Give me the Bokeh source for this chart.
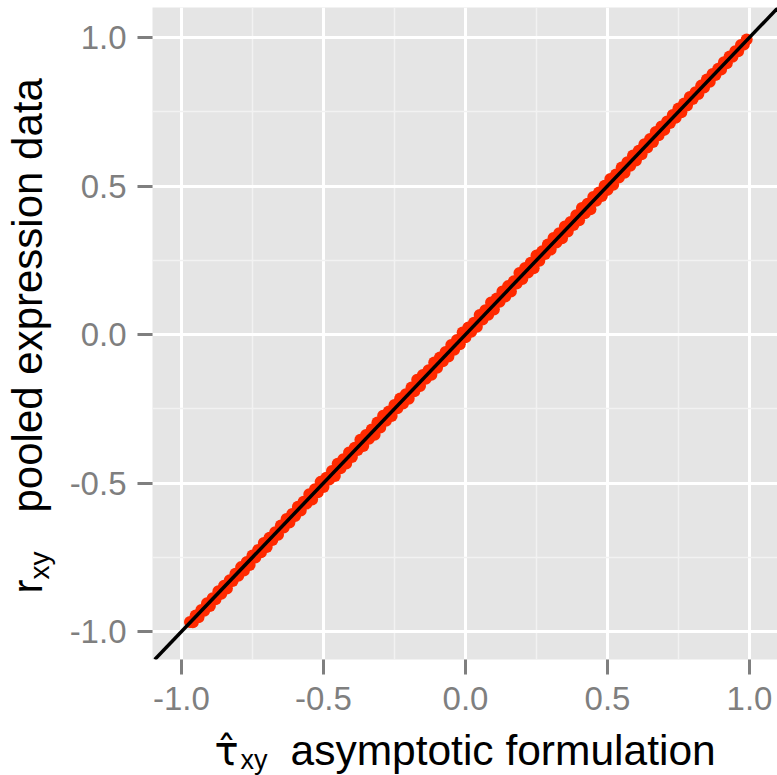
import math
from bokeh.plotting import figure
from bokeh.layouts import row, column
from bokeh.models import Range1d, FixedTicker, NumeralTickFormatter, Slope
from bokeh.core.properties import value
from bokeh.embed import file_html
from bokeh.resources import INLINE

# ---- data ----
x_a = [-0.97, -0.95, -0.93, -0.91, -0.89, -0.87, -0.85, -0.83, -0.81, -0.79,
       -0.77, -0.75, -0.73, -0.71, -0.69, -0.67, -0.65, -0.63, -0.61, -0.59,
       -0.57, -0.55, -0.53, -0.51, -0.49, -0.47, -0.45, -0.43, -0.41, -0.39,
       -0.37, -0.35, -0.33, -0.31, -0.29, -0.27, -0.25, -0.23, -0.21, -0.19,
       -0.17, -0.15, -0.13, -0.11, -0.09, -0.07, -0.05, -0.03, -0.01, 0.01,
       0.03, 0.05, 0.07, 0.09, 0.11, 0.13, 0.15, 0.17, 0.19, 0.21,
       0.23, 0.25, 0.27, 0.29, 0.31, 0.33, 0.35, 0.37, 0.39, 0.41,
       0.43, 0.45, 0.47, 0.49, 0.51, 0.53, 0.55, 0.57, 0.59, 0.61,
       0.63, 0.65, 0.67, 0.69, 0.71, 0.73, 0.75, 0.77, 0.79, 0.81,
       0.83, 0.85, 0.87, 0.89, 0.91, 0.93, 0.95, 0.97, 0.99]
y_a = [-0.968, -0.946, -0.927, -0.905, -0.888, -0.864, -0.846, -0.827, -0.805, -0.783,
       -0.766, -0.744, -0.725, -0.702, -0.684, -0.666, -0.643, -0.621, -0.604, -0.580,
       -0.563, -0.538, -0.521, -0.496, -0.482, -0.459, -0.435, -0.420, -0.397, -0.381,
       -0.354, -0.338, -0.320, -0.296, -0.273, -0.259, -0.237, -0.215, -0.201, -0.178,
       -0.152, -0.136, -0.120, -0.094, -0.077, -0.059, -0.035, -0.018, 0.007, 0.024,
       0.040, 0.066, 0.082, 0.108, 0.121, 0.145, 0.163, 0.179, 0.207, 0.224,
       0.242, 0.266, 0.280, 0.303, 0.325, 0.341, 0.364, 0.379, 0.402, 0.426,
       0.440, 0.463, 0.478, 0.501, 0.524, 0.539, 0.562, 0.580, 0.603, 0.619,
       0.641, 0.658, 0.682, 0.700, 0.717, 0.739, 0.761, 0.778, 0.800, 0.816,
       0.838, 0.859, 0.877, 0.895, 0.917, 0.936, 0.954, 0.975, 0.993]
x_b = [-0.96, -0.94, -0.92, -0.90, -0.88, -0.86, -0.84, -0.82, -0.80, -0.78,
       -0.76, -0.74, -0.72, -0.70, -0.68, -0.66, -0.64, -0.62, -0.60, -0.58,
       -0.56, -0.54, -0.52, -0.50, -0.48, -0.46, -0.44, -0.42, -0.40, -0.38,
       -0.36, -0.34, -0.32, -0.30, -0.28, -0.26, -0.24, -0.22, -0.20, -0.18,
       -0.16, -0.14, -0.12, -0.10, -0.08, -0.06, -0.04, -0.02, 0.00, 0.02,
       0.04, 0.06, 0.08, 0.10, 0.12, 0.14, 0.16, 0.18, 0.20, 0.22,
       0.24, 0.26, 0.28, 0.30, 0.32, 0.34, 0.36, 0.38, 0.40, 0.42,
       0.44, 0.46, 0.48, 0.50, 0.52, 0.54, 0.56, 0.58, 0.60, 0.62,
       0.64, 0.66, 0.68, 0.70, 0.72, 0.74, 0.76, 0.78, 0.80, 0.82,
       0.84, 0.86, 0.88, 0.90, 0.92, 0.94, 0.96, 0.98]
y_b = [-0.969, -0.952, -0.930, -0.914, -0.891, -0.873, -0.855, -0.830, -0.812, -0.794,
       -0.776, -0.751, -0.733, -0.715, -0.692, -0.674, -0.650, -0.633, -0.611, -0.592,
       -0.569, -0.555, -0.531, -0.513, -0.488, -0.476, -0.450, -0.434, -0.412, -0.389,
       -0.375, -0.351, -0.337, -0.313, -0.290, -0.274, -0.248, -0.232, -0.216, -0.191,
       -0.173, -0.149, -0.135, -0.112, -0.090, -0.074, -0.051, -0.033, -0.009, 0.009,
       0.026, 0.051, 0.067, 0.084, 0.110, 0.128, 0.145, 0.172, 0.187, 0.209,
       0.223, 0.248, 0.271, 0.286, 0.310, 0.324, 0.347, 0.369, 0.385, 0.408,
       0.422, 0.450, 0.466, 0.487, 0.504, 0.529, 0.545, 0.568, 0.586, 0.607,
       0.630, 0.648, 0.671, 0.689, 0.712, 0.730, 0.748, 0.771, 0.793, 0.810,
       0.832, 0.851, 0.874, 0.892, 0.913, 0.935, 0.954, 0.976]

major_ticks = [-1.0, -0.5, 0.0, 0.5, 1.0]
minor_ticks = [-0.75, -0.25, 0.25, 0.75]
x_title = "asymptotic formulation"
y_title = "pooled expression data"

FONT = "Liberation Sans"
GREEK = "DejaVu Sans"
DESCENT = {FONT: 0.212, GREEK: 0.236}
GRAY = "#7F7F7F"
W, H = 777, 775
YT_W = 60          # width of the y-title strip
FRAME_L, FRAME_T, FRAME_B = 152, 7, 659   # page pixels of the panel
MAIN_H = FRAME_B + 66
XT_H = H - MAIN_H  # height of the x-title strip

# ---- main panel ----
p = figure(width=W - YT_W, height=MAIN_H, output_backend="svg", toolbar_location=None,
           x_range=Range1d(-1.102, 1.0986), y_range=Range1d(-1.094, 1.101),
           min_border_left=FRAME_L - YT_W, min_border_right=0, min_border_top=FRAME_T,
           min_border_bottom=MAIN_H - FRAME_B)
p.background_fill_color = "#E5E5E5"
p.border_fill_color = "white"
p.outline_line_color = None

for ax in (p.xaxis[0], p.yaxis[0]):
    ax.ticker = FixedTicker(ticks=major_ticks, minor_ticks=minor_ticks)
    ax.formatter = NumeralTickFormatter(format="0.0")
    ax.axis_line_color = None
    ax.major_tick_line_color = GRAY
    ax.major_tick_line_width = 3
    ax.major_tick_in = 0
    ax.major_tick_out = 15
    ax.minor_tick_line_color = None
    ax.major_label_text_color = GRAY
    ax.major_label_text_font = FONT
    ax.major_label_text_font_size = "33px"
p.xaxis.major_label_standoff = 12
p.yaxis.major_label_standoff = 11

for g in (p.xgrid[0], p.ygrid[0]):
    g.ticker = FixedTicker(ticks=major_ticks, minor_ticks=minor_ticks)
    g.grid_line_color = "white"
    g.grid_line_width = 3
    g.minor_grid_line_color = "#F2F2F2"
    g.minor_grid_line_width = 1.5

p.scatter(x_a + x_b, y_a + y_b, size=12, fill_color="#FF2A00",
          line_color="#FF2A00", line_width=0)
p.add_layout(Slope(gradient=1, y_intercept=0, line_color="black", line_width=3.5))


def strip(w, h, x0, x1, y0, y1, left=0):
    """A blank figure whose frame coordinates equal page pixels."""
    f = figure(width=w, height=h, output_backend="svg", toolbar_location=None,
               x_range=Range1d(x0, x1), y_range=Range1d(y1, y0),
               x_axis_location=None, y_axis_location=None,
               min_border_left=left, min_border_right=0,
               min_border_top=0, min_border_bottom=0)
    f.grid.visible = False
    f.outline_line_color = None
    f.background_fill_color = "white"
    f.border_fill_color = "white"
    return f


def txt(f, s, cx, base, size_px, angle=0.0, font=FONT):
    # anchor on the bottom of the text box; the baseline sits a descent above it
    d = DESCENT[font] * size_px
    if angle == 0.0:
        x, y = cx, base + d
    else:
        x, y = base + d, cx
    f.text(x=[x], y=[y], text=[s], angle=angle, text_font=value(font),
           text_font_size=value(f"{size_px}px"), text_color="black",
           text_align="left", text_baseline="bottom")


# ---- y title strip: r[xy]  pooled expression data (reads bottom to top) ----
fy = strip(YT_W, H, 0, YT_W, 0, H)
txt(fy, "r", 593, 42, 42, math.pi / 2)
txt(fy, "xy", 579, 49, 28, math.pi / 2)
txt(fy, y_title, 512, 42, 42, math.pi / 2)

# ---- x title strip: hat(tau)[xy]  asymptotic formulation ----
fx = strip(W - YT_W, XT_H, FRAME_L, W, MAIN_H, H, left=FRAME_L - YT_W)
txt(fx, "\u03c4\u0302", 214, 764, 40, font=GREEK)
txt(fx, "xy", 240, 769, 27)
txt(fx, x_title, 290, 764, 42.5)

layout = row(fy, column(p, fx))
open("out.html", "w").write(file_html(layout, INLINE))
